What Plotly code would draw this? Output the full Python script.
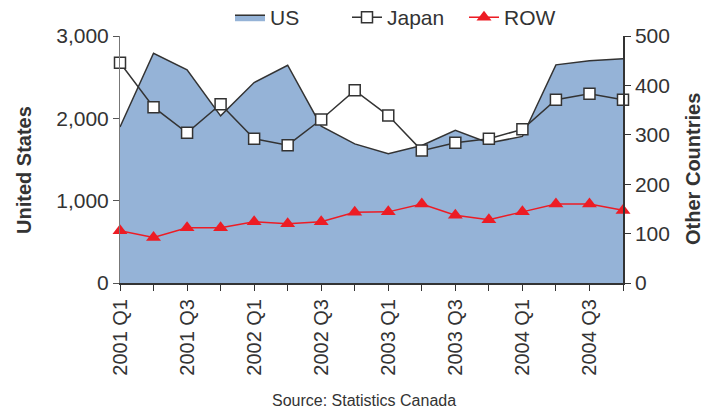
import plotly.graph_objects as go

quarters = ["2001 Q1", "2001 Q2", "2001 Q3", "2001 Q4",
            "2002 Q1", "2002 Q2", "2002 Q3", "2002 Q4",
            "2003 Q1", "2003 Q2", "2003 Q3", "2003 Q4",
            "2004 Q1", "2004 Q2", "2004 Q3", "2004 Q4"]
tick_labels = [q if i % 2 == 0 else "" for i, q in enumerate(quarters)]

us = [1895, 2790, 2590, 2030, 2435, 2645, 1905, 1690,
      1570, 1670, 1855, 1700, 1780, 2650, 2700, 2725]
japan = [446, 356, 304, 362, 292, 279, 331, 390,
         339, 268, 284, 292, 311, 371, 383, 371]
row = [106, 92, 112, 112, 124, 120, 124, 143,
       144, 160, 137, 128, 144, 160, 160, 147]

FONT = "Liberation Sans, Arial, sans-serif"
TXT = "#333333"

fig = go.Figure()
fig.add_trace(go.Scatter(
    x=quarters, y=us, name="US", mode="lines",
    fill="tozeroy", fillcolor="#95B3D7",
    line=dict(color="#333333", width=1.5),
    cliponaxis=False,
))
fig.add_trace(go.Scatter(
    x=quarters, y=japan, name="Japan", mode="lines+markers", yaxis="y2",
    line=dict(color="#333333", width=1.5),
    marker=dict(symbol="square", size=11, color="white",
                line=dict(color="#333333", width=1.5)),
    cliponaxis=False,
))
fig.add_trace(go.Scatter(
    x=quarters, y=row, name="ROW", mode="lines+markers", yaxis="y2",
    line=dict(color="#ED1C24", width=1.5),
    marker=dict(symbol="triangle-up", size=13, color="#ED1C24"),
    cliponaxis=False,
))

fig.update_layout(
    width=704, height=411,
    margin=dict(l=120, r=81, t=35.5, b=127.5, autoexpand=False),
    paper_bgcolor="white", plot_bgcolor="white",
    font=dict(family=FONT, size=20, color=TXT),
    showlegend=True,
    legend=dict(orientation="h", x=(230 - 120) / 503, xanchor="left",
                y=1.0746, yanchor="middle", font=dict(size=21, color=TXT),
                bgcolor="rgba(0,0,0,0)", entrywidth=72, entrywidthmode="pixels"),
    xaxis=dict(
        type="category", categoryorder="array", categoryarray=quarters,
        range=[0, 15], tickmode="array", tickvals=quarters, ticktext=tick_labels,
        tickangle=-90, ticks="outside", ticklen=6, tickcolor="#333333",
        showline=True, linecolor="#333333", linewidth=2, automargin=False,
        showgrid=False, zeroline=False, tickfont=dict(size=20, color=TXT),
    ),
    yaxis=dict(
        range=[0, 3000], tickvals=[0, 1000, 2000, 3000], tickformat=",",
        ticks="outside", ticklen=6, tickcolor="#555555", automargin=False,
        showline=True, linecolor="#777777", linewidth=1,
        showgrid=False, zeroline=False, tickfont=dict(size=21, color=TXT),
    ),
    yaxis2=dict(
        range=[0, 500], tickvals=[0, 100, 200, 300, 400, 500],
        overlaying="y", side="right", automargin=False,
        ticks="outside", ticklen=6, tickcolor="#333333",
        showline=True, linecolor="#333333", linewidth=1.5,
        showgrid=False, zeroline=False, tickfont=dict(size=21, color=TXT),
    ),
    annotations=[
        dict(text="<b>United States</b>", textangle=-90, xref="paper", yref="paper",
             x=(24 - 120) / 503, y=(283.5 - 170) / 248, xanchor="center", yanchor="middle",
             showarrow=False, font=dict(size=20, color=TXT)),
        dict(text="<b>Other Countries</b>", textangle=-90, xref="paper", yref="paper",
             x=(693 - 120) / 503, y=(283.5 - 169) / 248, xanchor="center", yanchor="middle",
             showarrow=False, font=dict(size=20, color=TXT)),
        dict(text="Source: Statistics Canada", xref="paper", yref="paper",
             x=(364 - 120) / 503, y=(283.5 - 401) / 248, xanchor="center", yanchor="middle",
             showarrow=False, font=dict(size=16, color=TXT)),
    ],
)

fig.write_html("out.html", config={"displayModeBar": False},
               post_script="document.body.style.margin='0';document.body.style.overflow='hidden';")
